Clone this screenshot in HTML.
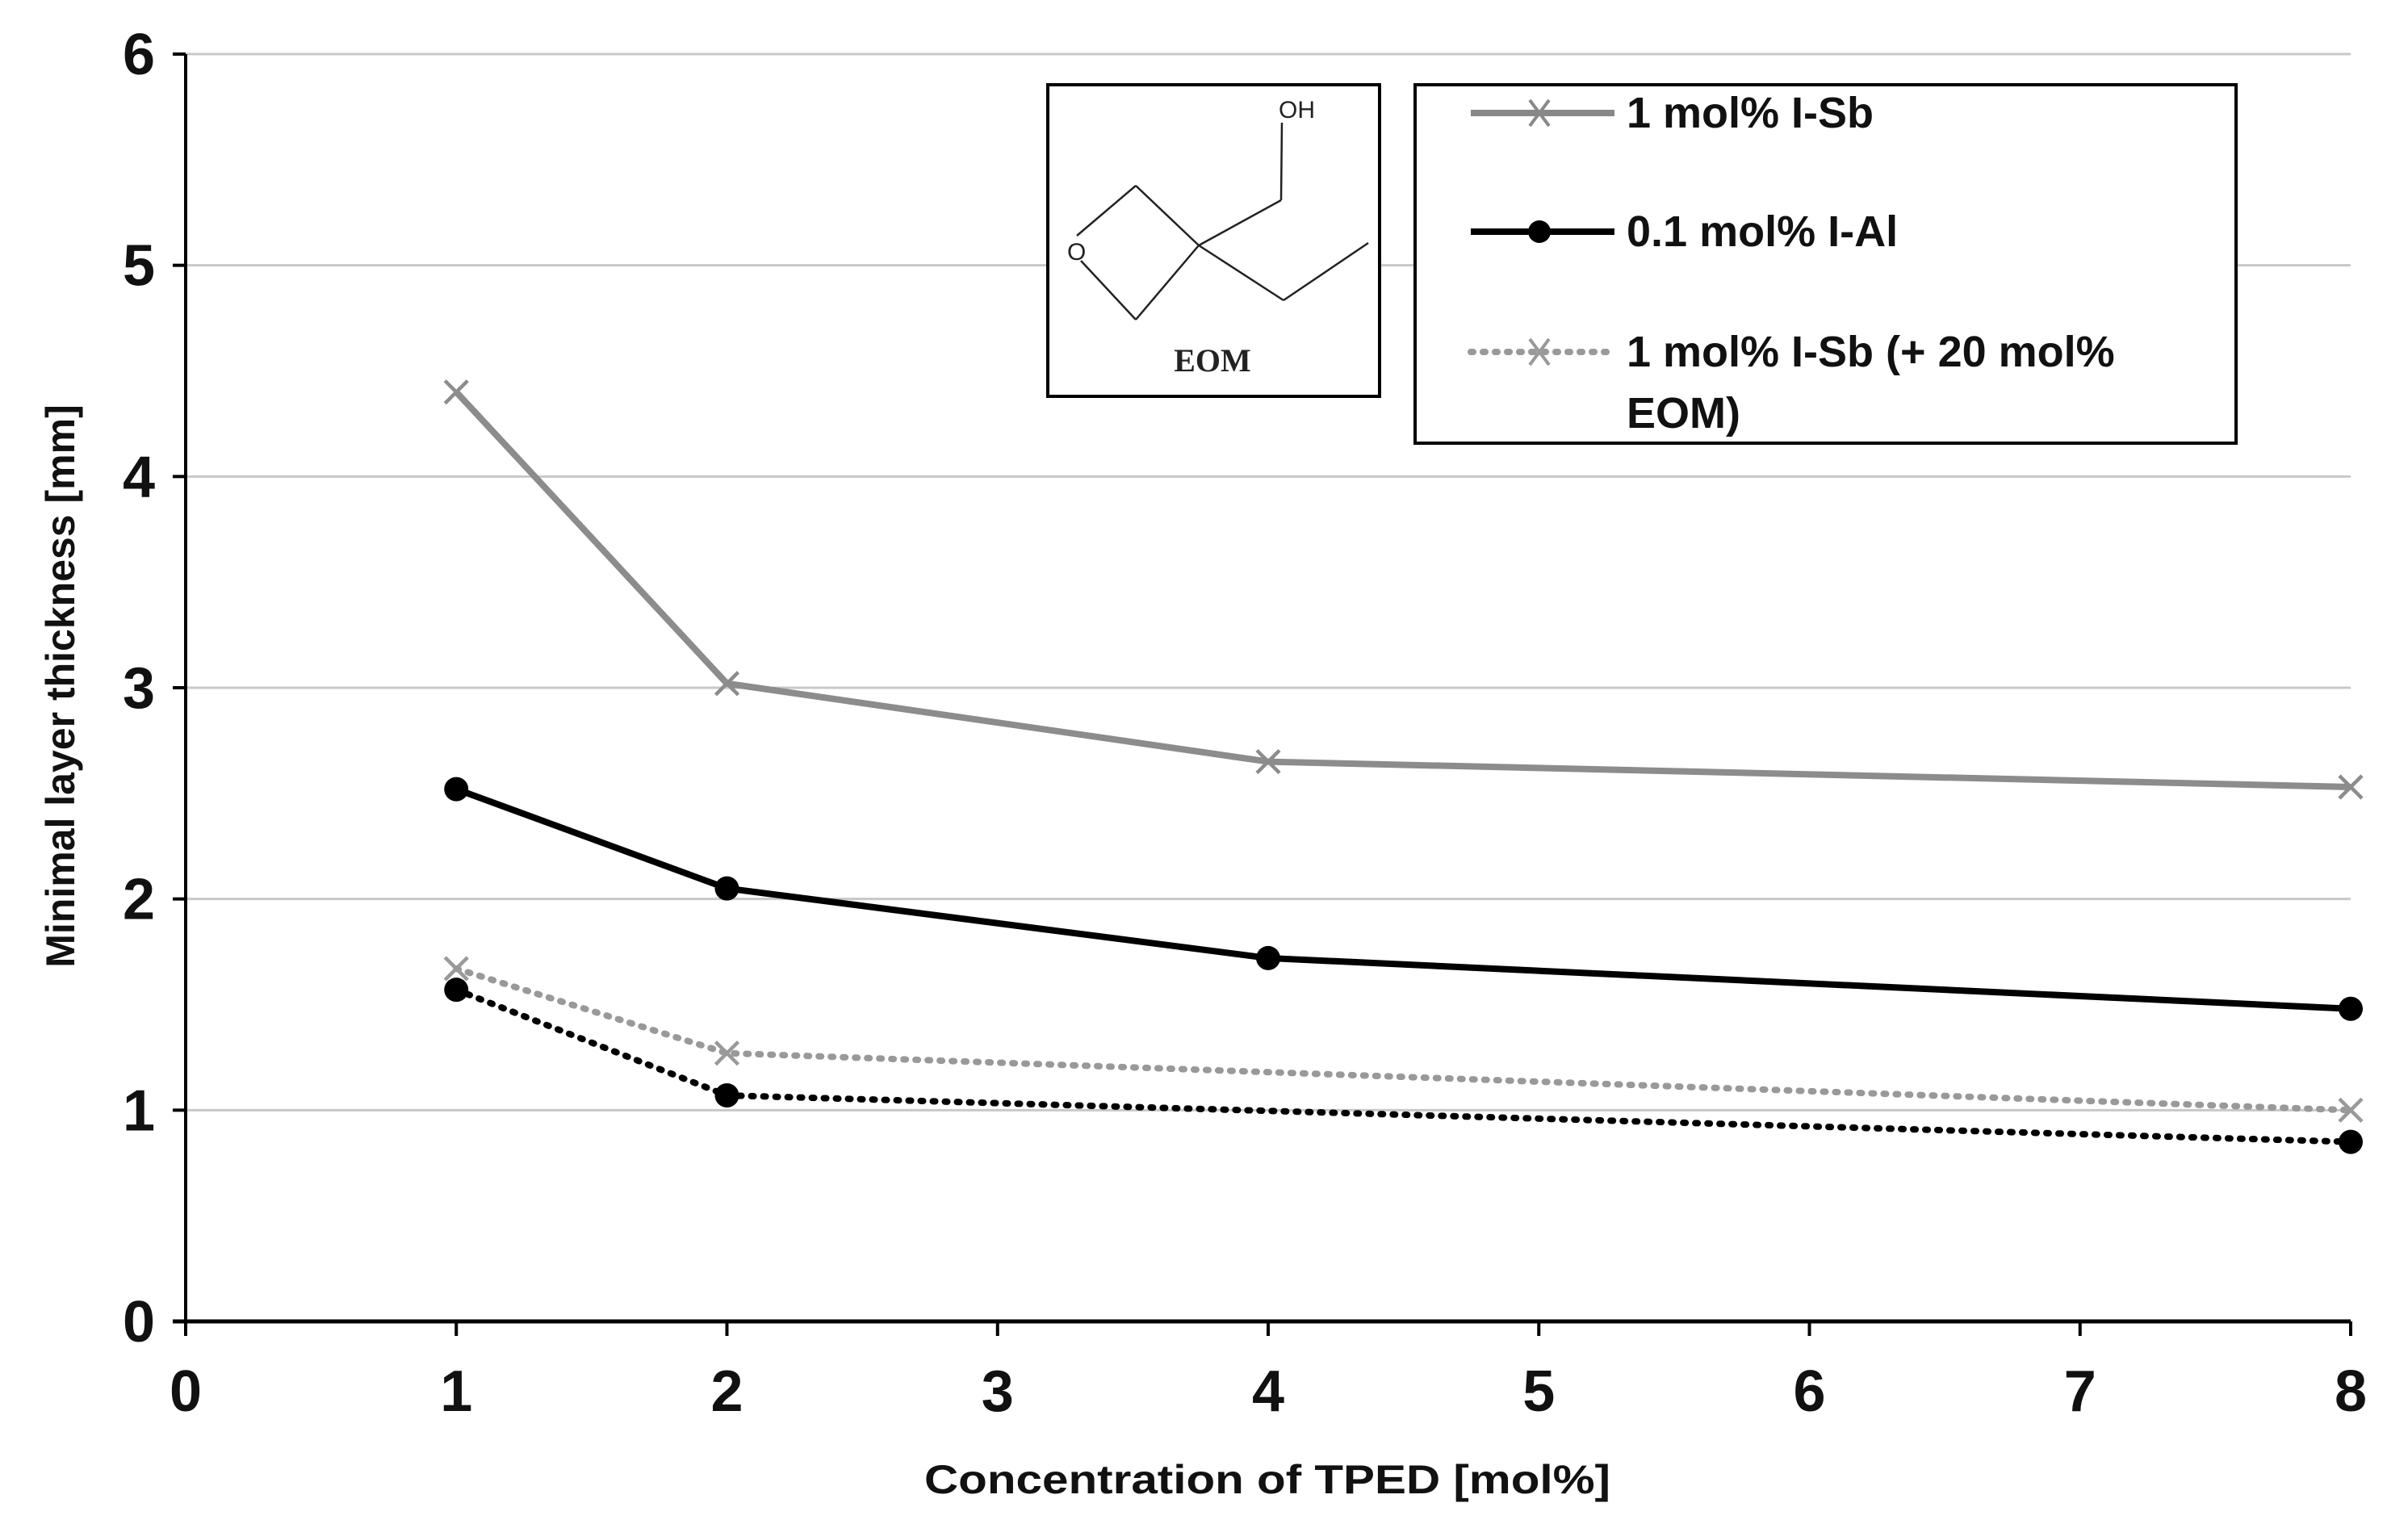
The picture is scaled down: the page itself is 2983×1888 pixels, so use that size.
<!DOCTYPE html>
<html><head><meta charset="utf-8"><style>
html,body{margin:0;padding:0;background:#fff;}
svg{display:block;font-family:"Liberation Sans",sans-serif;}
</style></head><body>
<svg id="chart" width="2983" height="1888" viewBox="0 0 2983 1888">
<g id="grid"></g>
<g id="axes"></g>
<g id="series"></g>
<text transform="translate(92,850) rotate(-90)" text-anchor="middle" font-size="50" font-weight="bold" fill="#111">Minimal layer thickness [mm]</text>
<text x="1570" y="1850" text-anchor="middle" font-size="50" font-weight="bold" fill="#111" textLength="850" lengthAdjust="spacingAndGlyphs">Concentration of TPED [mol%]</text>
<g transform="translate(-6,0)">
<rect x="1304" y="105" width="411" height="386" fill="#fff" stroke="#000" stroke-width="4"/>
<g stroke="#222" stroke-width="2.5" fill="none">
<line x1="1340" y1="292" x2="1413" y2="230"/>
<line x1="1413" y1="230" x2="1491" y2="304"/>
<line x1="1491" y1="304" x2="1413" y2="396"/>
<line x1="1413" y1="396" x2="1345" y2="323"/>
<line x1="1491" y1="304" x2="1593" y2="248"/>
<line x1="1593" y1="248" x2="1594" y2="152"/>
<line x1="1491" y1="304" x2="1596" y2="372"/>
<line x1="1596" y1="372" x2="1701" y2="301"/>
</g>
<text x="1328" y="322" font-size="30" fill="#222">O</text>
<text x="1590" y="146" font-size="30" fill="#222">OH</text>
<text x="1508" y="460" text-anchor="middle" font-size="40" font-weight="bold" font-family="Liberation Serif,serif" fill="#222">EOM</text>
</g>
<g transform="translate(-8,0)">
<rect x="1761" y="105" width="1017" height="444" fill="#fff" stroke="#000" stroke-width="4"/>
<g>
<line x1="1830" y1="140" x2="2008" y2="140" stroke="#888" stroke-width="8"/>
<path d="M1903 124 L1927 156 M1903 156 L1927 124" stroke="#888" stroke-width="4"/>
<text x="2023" y="158" font-size="54" font-weight="bold" fill="#111">1 mol% I-Sb</text>
</g>
<g>
<line x1="1830" y1="287" x2="2008" y2="287" stroke="#000" stroke-width="8"/>
<circle cx="1915" cy="287" r="14" fill="#000"/>
<text x="2023" y="305" font-size="54" font-weight="bold" fill="#111">0.1 mol% I-Al</text>
</g>
<g>
<line x1="1830" y1="436" x2="2008" y2="436" stroke="#999" stroke-width="8" stroke-dasharray="3,12" stroke-linecap="round"/>
<path d="M1903 420 L1927 452 M1903 452 L1927 420" stroke="#999" stroke-width="4"/>
<text x="2023" y="454" font-size="54" font-weight="bold" fill="#111">1 mol% I-Sb (+ 20 mol%</text>
<text x="2023" y="530" font-size="54" font-weight="bold" fill="#111">EOM)</text>
</g>
</g>
</svg>
<script>
const xTicks = [0,1,2,3,4,5,6,7,8];
const yTicks = [0,1,2,3,4,5,6];
const xCats = [1,2,4,8];
const xCatsDotted = [1,2,8];
const isbValues = [4.4,3.02,2.65,2.53];
const ialValues = [2.52,2.05,1.72,1.48];
const isbEomValues = [1.67,1.27,1.0];
const ialEomValues = [1.57,1.07,0.85];

const NS='http://www.w3.org/2000/svg';
const X0=230,X1=2912,Y0=1637,Y1=67;
function xPos(v){return X0+(X1-X0)*v/8;}
function yPos(v){return Y0-(Y0-Y1)*v/6;}
function mk(tag,attrs,parent){const e=document.createElementNS(NS,tag);for(const k in attrs)e.setAttribute(k,attrs[k]);parent.appendChild(e);return e;}
const grid=document.getElementById('grid'),axes=document.getElementById('axes'),ser=document.getElementById('series');
yTicks.forEach(v=>{
  if(v>0){const g=mk('line',{x1:X0,x2:X1,y1:yPos(v),y2:yPos(v),stroke:'#c8c8c8','stroke-width':3},grid);
  
  }
  const t=mk('line',{x1:X0-16,x2:X0,y1:yPos(v),y2:yPos(v),stroke:'#000','stroke-width':4},axes);
  
  
  const l=mk('text',{x:X0-38,y:yPos(v)+25,'text-anchor':'end','font-size':72,'font-weight':'bold',fill:'#111'},axes);
  l.textContent=v;
  
  
});
xTicks.forEach(v=>{
  const t=mk('line',{x1:xPos(v),x2:xPos(v),y1:Y0,y2:Y0+18,stroke:'#000','stroke-width':4},axes);
  
  
  const l=mk('text',{x:xPos(v),y:1748,'text-anchor':'middle','font-size':72,'font-weight':'bold',fill:'#111'},axes);
  l.textContent=v;
  
  
});
const ya=mk('line',{x1:X0,x2:X0,y1:Y1,y2:Y0+18,stroke:'#000','stroke-width':4},axes);


const xa=mk('line',{x1:X0-16,x2:X1,y1:Y0,y2:Y0,stroke:'#000','stroke-width':5},axes);



function series(name,xs,vals,color,dashed,marker){
  const g=mk('g',{},ser);
  
  
  const pts=vals.map((v,i)=>xPos(xs[i])+','+yPos(v)).join(' ');
  const a={points:pts,fill:'none',stroke:color,'stroke-width':8,'stroke-linejoin':'round'};
  if(dashed){a['stroke-dasharray']='3,12';a['stroke-linecap']='round';}
  mk('polyline',a,g);
  vals.forEach((v,i)=>{
    const cx=xPos(xs[i]),cy=yPos(v);
    let m;
    if(marker==='x'){m=mk('path',{d:`M${cx-14} ${cy-14} L${cx+14} ${cy+14} M${cx-14} ${cy+14} L${cx+14} ${cy-14}`,stroke:color,'stroke-width':4.5},g);}
    else{m=mk('circle',{cx:cx,cy:cy,r:15,fill:'#000'},g);}
    
    
  });
}
series('series-isb',xCats,isbValues,'#8c8c8c',false,'x');
series('series-ial',xCats,ialValues,'#000',false,'o');
series('series-isb-eom',xCatsDotted,isbEomValues,'#999',true,'x');
series('series-ial-eom',xCatsDotted,ialEomValues,'#000',true,'o');
</script>
</body></html>
